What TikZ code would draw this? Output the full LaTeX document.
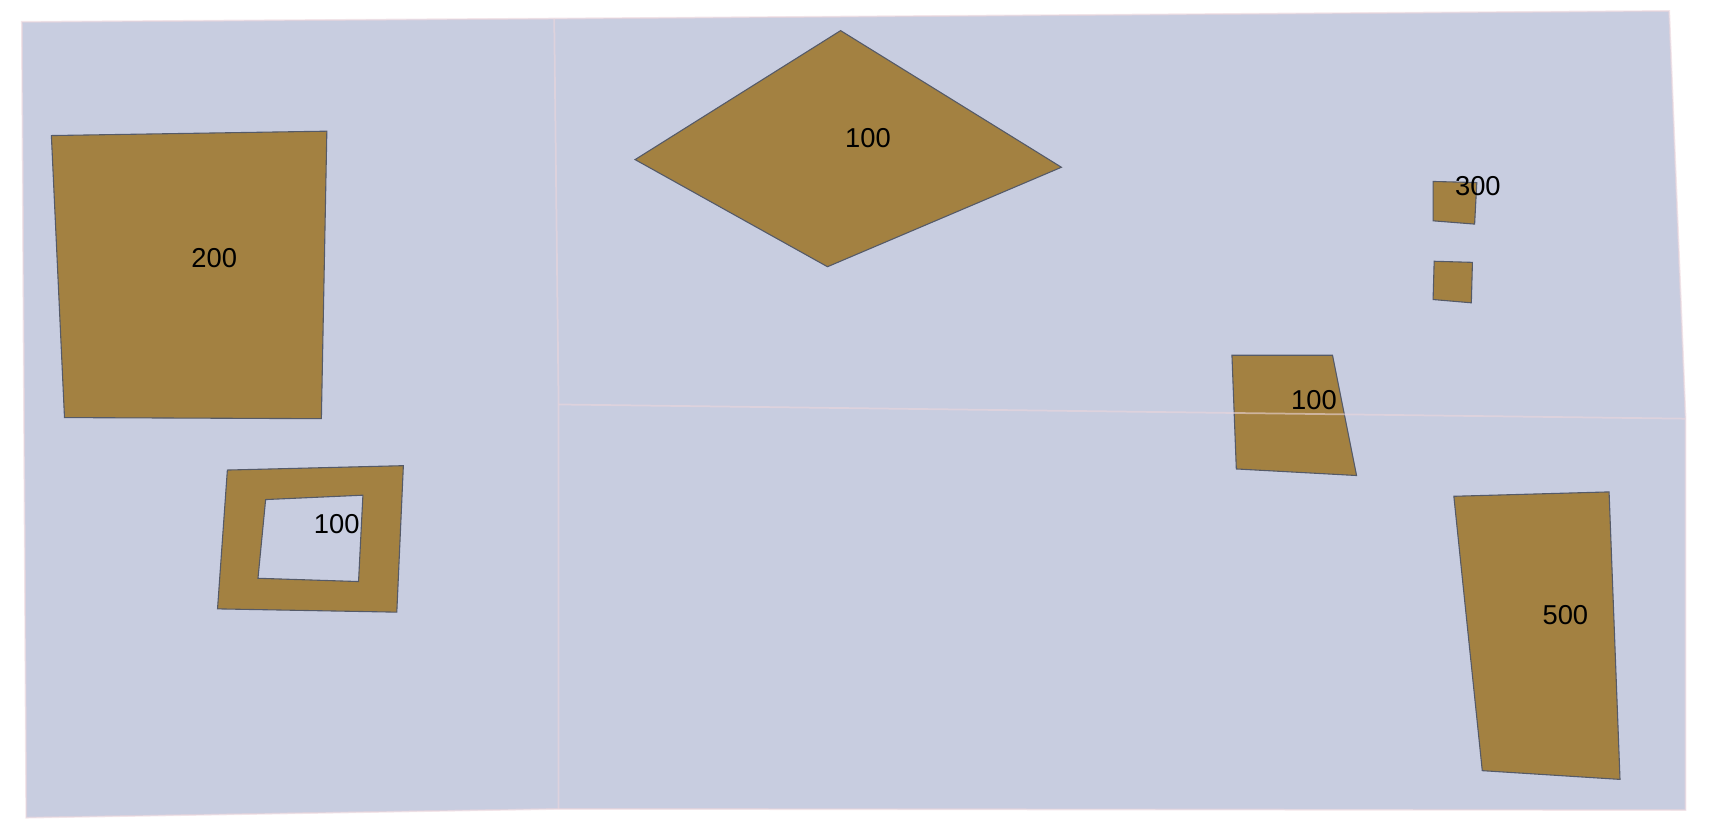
\documentclass[tikz,border=0pt]{standalone}
\usepackage{fontspec}
\setmainfont{Liberation Sans}
\definecolor{zonefill}{RGB}{200,205,224}
\definecolor{zoneline}{RGB}{236,214,220}
\definecolor{plotfill}{RGB}{163,129,65}
\definecolor{plotline}{RGB}{85,90,104}

\begin{document}
\begin{tikzpicture}[x=0.5pt,y=-0.5pt]
    \tikzstyle{zone}=[fill=zonefill]
    \tikzstyle{border}=[draw=zoneline,line width=0.8pt,opacity=0.6]
    \tikzstyle{plot}=[fill=plotfill,draw=plotline,line width=0.5pt,line join=miter]
    \tikzstyle{annot}=[font=\fontsize{12.5}{14}\selectfont,inner sep=0pt]

    \useasboundingbox (0,0) rectangle (1568,767);

    % the zones
    \fill[zone] (20,20) -- (507,17) -- (1527,10) -- (1542,383) -- (1542,741)
        -- (511,740) -- (24,748) -- cycle;

    % the plots
    \draw[plot] (47,124) -- (299,120) -- (294,383) -- (59,382) -- cycle;
    \draw[plot,even odd rule] (208,430) -- (369,426) -- (363,560) -- (199,557) -- cycle
        (243,457) -- (332,453) -- (328,532) -- (236,529) -- cycle;
    \draw[plot] (769,28) -- (971,153) -- (757,244) -- (581,146) -- cycle;
    \draw[plot] (1311,166) -- (1351,167) -- (1349,205) -- (1311,202) -- cycle;
    \draw[plot] (1312,239) -- (1347,240) -- (1346,277) -- (1311,274) -- cycle;
    \draw[plot] (1127,325) -- (1219,325) -- (1241,435) -- (1131,429) -- cycle;
    \draw[plot] (1330,454) -- (1472,450) -- (1482,713) -- (1356,705) -- cycle;

    % zone borders on top
    \draw[border] (20,20) -- (507,17) -- (1527,10) -- (1542,383) -- (1542,741)
        -- (511,740) -- (24,748) -- cycle;
    \draw[border] (507,17) -- (511,370) -- (511,740);
    \draw[border] (511,370) -- (1542,383);

    % Annotate the plots
    \node[annot] (A-200) at (196,236) {200};
    \node[annot] (A-ring) at (308,479) {100};
    \node[annot] (A-top) at (794,126) {100};
    \node[annot] (A-300) at (1352,170) {300};
    \node[annot] (A-mid) at (1202,366) {100};
    \node[annot] (A-500) at (1432,563) {500};
\end{tikzpicture}
\end{document}
